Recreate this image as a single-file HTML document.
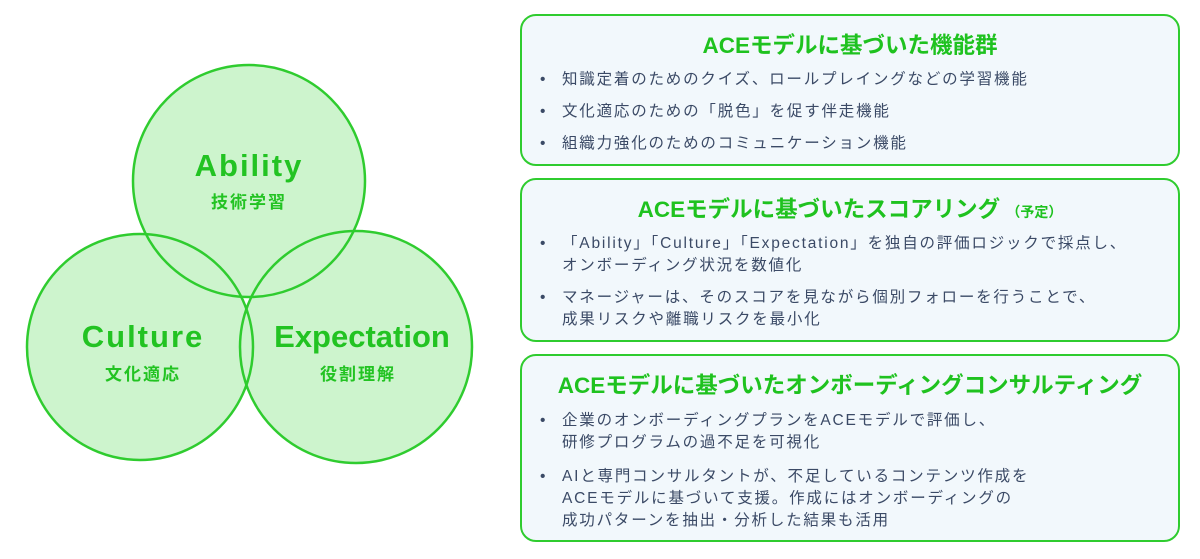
<!DOCTYPE html>
<html><head><meta charset="utf-8">
<style>
body{margin:0;width:1200px;height:559px;background:#fff;position:relative;overflow:hidden;font-family:"Liberation Sans","Noto Sans CJK JP",sans-serif}
.box{position:absolute;left:520px;width:660px;border:2.5px solid #2fcc2f;border-radius:16px;background:#f2f8fc;box-sizing:border-box}
.t{position:absolute;left:0;right:0;text-align:center;color:#1fc21f;font-weight:bold;font-size:22.5px;line-height:26px}
.t small{font-size:14px}
.l{position:absolute;left:40px;color:#3b4a66;font-size:15.5px;letter-spacing:1.8px;line-height:22px;white-space:nowrap}
.l:before{content:"•";position:absolute;left:-22px;letter-spacing:0}
.c{position:absolute;left:40px;color:#3b4a66;font-size:15.5px;letter-spacing:1.8px;line-height:22px;white-space:nowrap}
svg text{font-family:"Liberation Sans","Noto Sans CJK JP",sans-serif;font-weight:bold;fill:#22c322;text-anchor:middle}
</style></head><body>
<svg width="500" height="559" style="position:absolute;left:0;top:0">
<g fill="#cdf4cd" stroke="none">
<circle cx="249" cy="181" r="116"/>
<circle cx="140" cy="347" r="113"/>
<circle cx="356" cy="347" r="116"/>
</g>
<g fill="none" stroke="#2fcc2f" stroke-width="2.5">
<circle cx="249" cy="181" r="116"/>
<circle cx="140" cy="347" r="113"/>
<circle cx="356" cy="347" r="116"/>
</g>
<text x="249" y="176" font-size="31" letter-spacing="2">Ability</text>
<text x="249" y="208" font-size="17" letter-spacing="2">技術学習</text>
<text x="143" y="347" font-size="31" letter-spacing="2">Culture</text>
<text x="143" y="380" font-size="17" letter-spacing="2">文化適応</text>
<text x="362" y="347" font-size="31">Expectation</text>
<text x="358" y="380" font-size="17" letter-spacing="2">役割理解</text>
</svg>

<div class="box" style="top:14px;height:152px">
<div class="t" style="top:17px">ACEモデルに基づいた機能群</div>
<div class="l" style="top:53px">知識定着のためのクイズ、ロールプレイングなどの学習機能</div>
<div class="l" style="top:85px">文化適応のための「脱色」を促す伴走機能</div>
<div class="l" style="top:117px">組織力強化のためのコミュニケーション機能</div>
</div>

<div class="box" style="top:178px;height:164px">
<div class="t" style="top:17px">ACEモデルに基づいたスコアリング <small>（予定）</small></div>
<div class="l" style="top:53px">「Ability」「Culture」「Expectation」を独自の評価ロジックで採点し、</div>
<div class="c" style="top:75px">オンボーディング状況を数値化</div>
<div class="l" style="top:107px">マネージャーは、そのスコアを見ながら個別フォローを行うことで、</div>
<div class="c" style="top:129px">成果リスクや離職リスクを最小化</div>
</div>

<div class="box" style="top:354px;height:188px">
<div class="t" style="top:17px">ACEモデルに基づいたオンボーディングコンサルティング</div>
<div class="l" style="top:54px">企業のオンボーディングプランをACEモデルで評価し、</div>
<div class="c" style="top:76px">研修プログラムの過不足を可視化</div>
<div class="l" style="top:110px">AIと専門コンサルタントが、不足しているコンテンツ作成を</div>
<div class="c" style="top:132px">ACEモデルに基づいて支援。作成にはオンボーディングの</div>
<div class="c" style="top:154px">成功パターンを抽出・分析した結果も活用</div>
</div>
</body></html>
